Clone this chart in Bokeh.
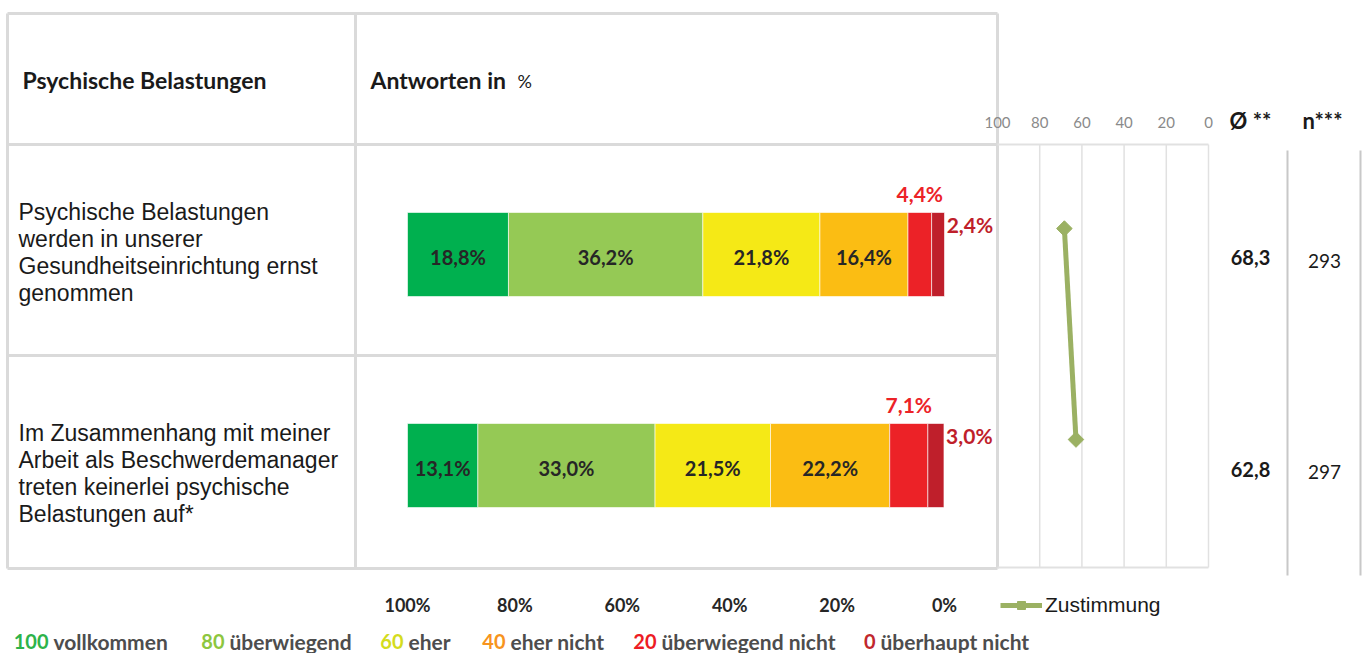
import math
from bokeh.plotting import figure
from bokeh.models import Range1d, Legend, LegendItem, ColumnDataSource
from bokeh.core.properties import value
from bokeh.embed import file_html
from bokeh.resources import INLINE

# ---------------- data ----------------
questions = [
    "Psychische Belastungen\nwerden in unserer\nGesundheitseinrichtung ernst\ngenommen",
    "Im Zusammenhang mit meiner\nArbeit als Beschwerdemanager\ntreten keinerlei psychische\nBelastungen auf*",
]
categories = ["vollkommen", "überwiegend", "eher", "eher nicht", "überwiegend nicht", "überhaupt nicht"]
category_scores = ["100", "80", "60", "40", "20", "0"]
shares_row1 = [18.8, 36.2, 21.8, 16.4, 4.4, 2.4]
shares_row2 = [13.1, 33.0, 21.5, 22.2, 7.1, 3.0]
zustimmung = [68.3, 62.8]
mean_labels = ["68,3", "62,8"]
n_labels = ["293", "297"]
bar_ticks = [100, 80, 60, 40, 20, 0]
mini_ticks = [100, 80, 60, 40, 20, 0]

colors = ["#00b04f", "#95c955", "#f5e916", "#fbbd13", "#ec2227", "#bf1f2b"]
legend_num_colors = ["#2db34a", "#8dc63f", "#d4dc1e", "#f7941d", "#ed1c24", "#c1272d"]

# ---------------- geometry (layout only) ----------------
W, H = 1366, 653
BAR_LEFT, BAR_PX = 407.0, 537.0       # px where 100% sits, px per 100%
MINI_LEFT, MINI_PX = 997.0, 211.0     # px where 100 sits, px per 100
ROW0, ROW_PX = 254.0, 211.0           # px of first row centre, px per row
BAR_H = 84.0 / ROW_PX


def row_y(px):
    return (px - ROW0) / ROW_PX


x_bar = Range1d(start=100 + BAR_LEFT / (BAR_PX / 100), end=100 - (W - BAR_LEFT) / (BAR_PX / 100))
x_mini = Range1d(start=100 + MINI_LEFT / (MINI_PX / 100), end=100 - (W - MINI_LEFT) / (MINI_PX / 100))
y_row = Range1d(start=(H - ROW0) / ROW_PX, end=-ROW0 / ROW_PX)

p = figure(width=W, height=H, x_range=x_bar, y_range=y_row, output_backend="svg",
           toolbar_location=None, min_border=0, x_axis_location=None, y_axis_location=None)
p.outline_line_color = None
p.grid.visible = False
p.background_fill_color = "white"
p.border_fill_color = "white"
p.extra_x_ranges = {"mini": x_mini, "px": Range1d(0, W)}
p.extra_y_ranges = {"px": Range1d(H, 0)}

GRID = "#dadada"
LBL = value("Lato")
ARIAL = value("Liberation Sans")

# ---------------- table frame ----------------
p.segment(x0=[7, 7, 7, 7, 7, 355, 997], y0=[13, 144, 355, 568, 13, 13, 13],
          x1=[997, 997, 997, 997, 7, 355, 997], y1=[13, 144, 355, 568, 568, 568, 568],
          x_range_name="px", y_range_name="px", line_color=GRID, line_width=3)

# mini chart grid
p.segment(x0=mini_ticks[1:], x1=mini_ticks[1:], y0=[row_y(144)] * 5,
          y1=[row_y(567)] * 5, x_range_name="mini", line_color="#e1e1e1", line_width=1.5)
p.segment(x0=[100, 100], x1=[0, 0], y0=[row_y(144), row_y(567)],
          y1=[row_y(144), row_y(567)], x_range_name="mini",
          line_color="#e1e1e1", line_width=2)

# right-hand column separators
p.segment(x0=[1287, 1360], x1=[1287, 1360], y0=[150, 150], y1=[575, 575],
          x_range_name="px", y_range_name="px", line_color="#c8c8c8", line_width=2)

# ---------------- headers ----------------
p.text(x=[22], y=[79], text=["Psychische Belastungen"], x_range_name="px", y_range_name="px",
       text_font=LBL, text_font_style="bold", text_font_size="23px", text_color="#1a1a1a",
       text_baseline="middle")
p.text(x=[370], y=[79], text=["Antworten in"], x_range_name="px", y_range_name="px",
       text_font=LBL, text_font_style="bold", text_font_size="23px", text_color="#1a1a1a",
       text_baseline="middle")
p.text(x=[517], y=[80], text=["%"], x_range_name="px", y_range_name="px",
       text_font=LBL, text_font_size="18px", text_color="#1a1a1a", text_baseline="middle")

# mini axis tick labels
p.text(x=mini_ticks, y=[row_y(122)] * len(mini_ticks), text=[str(t) for t in mini_ticks],
       x_range_name="mini", text_font=LBL, text_font_size="15px", text_color="#8a8a8a",
       text_align="center", text_baseline="middle")
p.text(x=[1250, 1322], y=[120, 120], text=["Ø **", "n***"], x_range_name="px", y_range_name="px",
       text_font=LBL, text_font_style="bold", text_font_size="22px", text_color="#1a1a1a",
       text_align="center", text_baseline="middle")

# ---------------- row labels ----------------
p.text(x=[18, 18], y=[252, 473], text=questions, x_range_name="px", y_range_name="px",
       text_font=ARIAL, text_font_size="23px", text_color="#1a1a1a", text_baseline="middle",
       text_line_height=1.05)

# ---------------- stacked bars ----------------
rows = [shares_row1, shares_row2]
for r, shares in enumerate(rows):
    right_edges, left_edges = [], []
    cum = 0.0
    for s in shares:
        left_edges.append(100 - cum)
        cum += s
        right_edges.append(100 - cum)
    src = ColumnDataSource(dict(left=left_edges, right=right_edges, y=[r] * 6, color=colors,
                                label=[f"{s:.1f}".replace(".", ",") + "%" for s in shares],
                                mid=[(a + b) / 2 for a, b in zip(left_edges, right_edges)]))
    p.hbar(y="y", left="left", right="right", height=BAR_H, fill_color="color",
           line_color="white", line_width=0.6, source=src)
    inner = [i for i in range(4)]
    p.text(x=[src.data["mid"][i] for i in inner], y=[r + 0.012] * 4,
           text=[src.data["label"][i] for i in inner], text_font=LBL, text_font_style="bold",
           text_font_size="20px", text_color="#262626", text_align="center", text_baseline="middle")
    # small segments: labels outside
    p.text(x=[src.data["mid"][4]], y=[r - BAR_H / 2 - 0.088], text=[src.data["label"][4]],
           text_font=LBL, text_font_style="bold", text_font_size="21px", text_color="#ec2227",
           text_align="center", text_baseline="middle")
    p.text(x=[right_edges[5] - 0.4], y=[r - BAR_H / 2 + 0.055], text=[src.data["label"][5]],
           text_font=LBL, text_font_style="bold", text_font_size="21px", text_color="#bf1f2b",
           text_align="left", text_baseline="middle")

# ---------------- bar axis labels ----------------
p.text(x=bar_ticks, y=[row_y(604)] * len(bar_ticks), text=[f"{t}%" for t in bar_ticks],
       text_font=LBL, text_font_style="bold", text_font_size="18px", text_color="#262626",
       text_align="center", text_baseline="middle")

# ---------------- Zustimmung line ----------------
ys = [r - 0.123 for r in range(len(zustimmung))]
ln = p.line(x=zustimmung, y=ys, x_range_name="mini", line_color="#9bb163", line_width=5)
mk = p.scatter(x=zustimmung, y=ys, x_range_name="mini", marker="square", size=11, angle=math.pi / 4,
               fill_color="#9bb163", line_color="#9bb163")

p.text(x=[1250, 1250], y=[row_y(257), row_y(469)], text=mean_labels, x_range_name="px",
       text_font=LBL, text_font_style="bold", text_font_size="20px", text_color="#1a1a1a",
       text_align="center", text_baseline="middle")
p.text(x=[1324, 1324], y=[row_y(260), row_y(471)], text=n_labels, x_range_name="px",
       text_font=LBL, text_font_size="19px", text_color="#1a1a1a",
       text_align="center", text_baseline="middle")

legend = Legend(items=[LegendItem(label="Zustimmung", renderers=[ln, mk])], location=(1000, 36),
                background_fill_alpha=0, border_line_color=None, padding=0, margin=0,
                glyph_width=42, glyph_height=20, label_height=20, label_standoff=3,
                label_text_font="Liberation Sans", label_text_font_size="21px",
                label_text_color="#1a1a1a", label_text_baseline="middle")
p.add_layout(legend)

# ---------------- bottom category legend ----------------
txt_x = [53, 229, 408, 510, 661, 880]
p.text(x=[t - 5 for t in txt_x], y=[641] * 6, text=category_scores, x_range_name="px", y_range_name="px",
       text_font=LBL, text_font_style="bold", text_font_size="20px", text_color=legend_num_colors,
       text_align="right", text_baseline="middle")
p.text(x=txt_x, y=[641] * 6, text=categories, x_range_name="px", y_range_name="px",
       text_font=LBL, text_font_style="bold", text_font_size="21px", text_color="#4d4d4d",
       text_baseline="middle")

open("out.html", "w").write(file_html(p, INLINE))
